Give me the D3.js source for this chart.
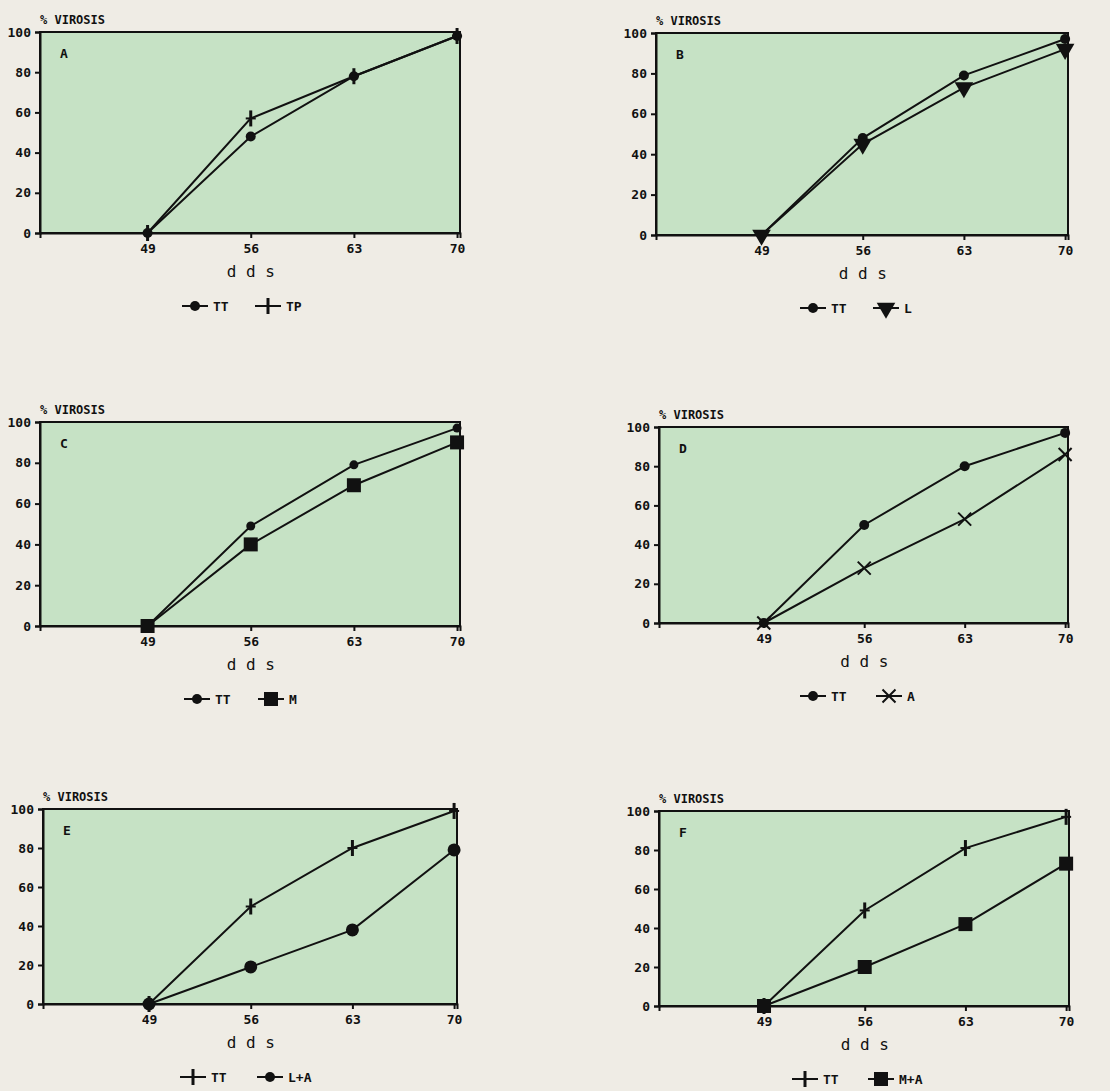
<!DOCTYPE html>
<html>
<head>
<meta charset="utf-8">
<script src="https://cdn.jsdelivr.net/npm/d3@7"></script>
<style>
  body { margin: 0; background: #efece5; }
  svg text { font-family: "DejaVu Sans Mono", monospace; font-weight: bold; fill: #111; }
</style>
</head>
<body>
<svg id="page" width="1110" height="1091"></svg>
<script>
// data
const days = [49, 56, 63, 70];
const yTicks = [0, 20, 40, 60, 80, 100];
const panelLetters = ["A", "B", "C", "D", "E", "F"];

const ttA = [0, 48, 78, 98];
const tpA = [0, 57, 78, 98];
const ttB = [0, 48, 79, 97];
const lB = [0, 45, 73, 92];
const ttC = [0, 49, 79, 97];
const mC = [0, 40, 69, 90];
const ttD = [0, 50, 80, 97];
const aD = [0, 28, 53, 86];
const ttE = [0, 50, 80, 99];
const laE = [0, 19, 38, 79];
const ttF = [0, 49, 81, 97];
const maF = [0, 20, 42, 73];

const panelSeries = [
  [{ name: "TT", values: ttA, marker: "circle" }, { name: "TP", values: tpA, marker: "plus" }],
  [{ name: "TT", values: ttB, marker: "circle" }, { name: "L", values: lB, marker: "triangle" }],
  [{ name: "TT", values: ttC, marker: "circle" }, { name: "M", values: mC, marker: "square" }],
  [{ name: "TT", values: ttD, marker: "circle" }, { name: "A", values: aD, marker: "x" }],
  [{ name: "TT", values: ttE, marker: "plus" }, { name: "L+A", values: laE, marker: "circle" }],
  [{ name: "TT", values: ttF, marker: "plus" }, { name: "M+A", values: maF, marker: "square" }]
];

// where each panel sits on the page, and how big its circles are
const layout = [
  { left: 40, top: 32, right: 460, bottom: 233, legend: [182, 255], r: 5 },
  { left: 656, top: 33, right: 1068, bottom: 235, legend: [800, 873], r: 5 },
  { left: 40, top: 422, right: 460, bottom: 626, legend: [184, 258], r: 4.5 },
  { left: 659, top: 427, right: 1068, bottom: 623, legend: [800, 876], r: 5 },
  { left: 43, top: 809, right: 457, bottom: 1004, legend: [180, 257], r: 6.5 },
  { left: 659, top: 811, right: 1069, bottom: 1006, legend: [792, 868], r: 5 }
];

const svg = d3.select("#page");

function drawMarker(g, type, x, y, r) {
  if (type === "circle") {
    g.append("circle").attr("cx", x).attr("cy", y).attr("r", r).attr("fill", "#111");
  } else if (type === "square") {
    g.append("rect").attr("x", x - 7).attr("y", y - 7).attr("width", 14).attr("height", 14).attr("fill", "#111");
  } else if (type === "triangle") {
    g.append("path")
      .attr("d", d3.symbol().type(d3.symbolTriangle).size(150)())
      .attr("transform", "translate(" + x + "," + y + ") rotate(180)")
      .attr("fill", "#111");
  } else if (type === "plus") {
    g.append("line").attr("x1", x).attr("x2", x).attr("y1", y - 8).attr("y2", y + 8)
      .attr("stroke", "#111").attr("stroke-width", 3);
    g.append("line").attr("x1", x - 5).attr("x2", x + 5).attr("y1", y).attr("y2", y)
      .attr("stroke", "#111").attr("stroke-width", 2);
  } else if (type === "x") {
    g.append("path")
      .attr("d", "M" + (x - 6.5) + "," + (y - 6.5) + "L" + (x + 6.5) + "," + (y + 6.5) +
                 "M" + (x - 6.5) + "," + (y + 6.5) + "L" + (x + 6.5) + "," + (y - 6.5))
      .attr("stroke", "#111").attr("stroke-width", 2).attr("fill", "none");
  }
}

panelSeries.forEach((series, i) => {
  const p = layout[i];
  const g = svg.append("g");

  const x = d3.scaleLinear().domain([41.7, 70.2]).range([p.left, p.right]);
  const y = d3.scaleLinear().domain([0, 100]).range([p.bottom, p.top]);

  // green plotting area
  g.append("rect")
    .attr("x", p.left).attr("y", p.top)
    .attr("width", p.right - p.left).attr("height", p.bottom - p.top)
    .attr("fill", "#c6e2c5").attr("stroke", "#111").attr("stroke-width", 2);

  // Y axis
  const yAxis = g.append("g")
    .attr("transform", "translate(" + p.left + ",0)")
    .call(d3.axisLeft(y).tickValues(yTicks).tickSize(5).tickPadding(4));
  yAxis.select(".domain").attr("stroke", "#111").attr("stroke-width", 2);
  yAxis.selectAll(".tick line").attr("stroke", "#111").attr("stroke-width", 2);
  yAxis.selectAll("text").style("font-size", "13px");

  // X axis
  const xAxis = g.append("g")
    .attr("transform", "translate(0," + p.bottom + ")")
    .call(d3.axisBottom(x).tickValues(days).tickSize(5).tickPadding(6));
  xAxis.select(".domain").attr("stroke", "#111").attr("stroke-width", 2);
  xAxis.selectAll(".tick line").attr("stroke", "#111").attr("stroke-width", 2);
  xAxis.selectAll("text").style("font-size", "13px");

  g.append("text")
    .attr("x", p.left).attr("y", p.top - 8)
    .style("font-size", "12px")
    .text("% VIROSIS");

  g.append("text")
    .attr("x", x(56)).attr("y", p.bottom + 44)
    .attr("text-anchor", "middle")
    .style("font-size", "16px").style("font-weight", "normal")
    .text("d d s");

  g.append("text")
    .attr("x", p.left + 20).attr("y", p.top + 26)
    .style("font-size", "13px")
    .text(panelLetters[i]);

  const line = d3.line().x((d, k) => x(days[k])).y(d => y(d));

  series.forEach(s => {
    g.append("path")
      .datum(s.values)
      .attr("d", line)
      .attr("fill", "none")
      .attr("stroke", "#111")
      .attr("stroke-width", 2);
    s.values.forEach((v, k) => drawMarker(g, s.marker, x(days[k]), y(v), p.r));
  });

  // legend
  const ly = p.bottom + 73;
  series.forEach((s, k) => {
    const lx = p.legend[k];
    g.append("line")
      .attr("x1", lx).attr("x2", lx + 26).attr("y1", ly).attr("y2", ly)
      .attr("stroke", "#111").attr("stroke-width", 2);
    drawMarker(g, s.marker, lx + 13, ly, 5);
    g.append("text")
      .attr("x", lx + 31).attr("y", ly + 5)
      .style("font-size", "13px")
      .text(s.name);
  });
});
</script>
</body>
</html>
